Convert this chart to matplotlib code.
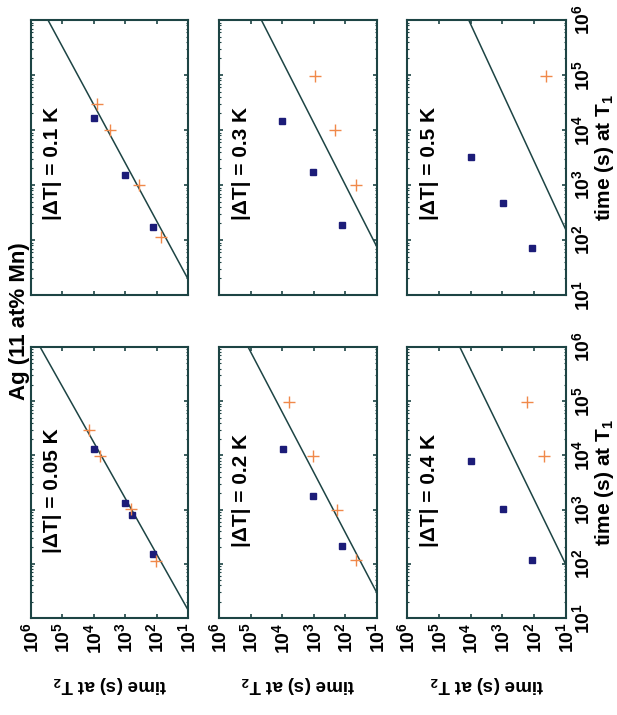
import numpy as np
import matplotlib
matplotlib.use('Agg')
import matplotlib.pyplot as plt
from matplotlib.ticker import FixedLocator, LogLocator, NullFormatter

plt.rcParams['font.family'] = ['Liberation Sans', 'DejaVu Sans']
plt.rcParams['font.weight'] = 'bold'
plt.rcParams['mathtext.fontset'] = 'custom'
plt.rcParams['mathtext.rm'] = 'Liberation Sans:bold'
plt.rcParams['mathtext.it'] = 'Liberation Sans:bold'
plt.rcParams['mathtext.bf'] = 'Liberation Sans:bold'

# panels, top row then bottom row
delta_t = ['0.1', '0.3', '0.5', '0.05', '0.2', '0.4']

# log10 of the waiting times (s)
blue_t2 = [[3.99, 3.01, 2.10], [4.01, 3.04, 2.10], [3.98, 2.99, 2.06],
           [3.99, 3.01, 2.78, 2.10], [3.98, 3.03, 2.10], [3.98, 2.99, 2.06]]
blue_t1 = [[4.21, 3.18, 2.23], [4.17, 3.23, 2.27], [3.51, 2.67, 1.85],
           [4.12, 3.12, 2.90, 2.19], [4.12, 3.26, 2.33], [3.90, 3.01, 2.07]]

orange_t2 = [[3.90, 3.49, 2.56, 1.85], [2.95, 2.32, 1.68], [1.62],
             [4.15, 3.81, 2.80, 2.03], [3.77, 3.01, 2.26, 1.68], [2.23, 1.69]]
orange_t1 = [[4.47, 4.00, 3.00, 2.05], [4.98, 4.00, 3.00], [4.98],
             [4.46, 3.99, 3.02, 2.06], [4.99, 3.99, 2.99, 2.07], [4.99, 3.99]]

# reference line, two end points per panel
line_t2 = [[5.46, 1.0], [4.66, 1.0], [4.06, 1.0],
           [5.71, 1.0], [5.08, 1.0], [4.34, 1.0]]
line_t1 = [[6.0, 1.29], [6.0, 1.87], [6.0, 2.18],
           [6.0, 1.15], [6.0, 1.46], [6.0, 1.98]]

decades = [1, 2, 3, 4, 5, 6]
tick_text = ['$10^{%d}$' % d for d in decades]

W, H = 617, 715
frame = '#1d4444'
navy = '#1c1c78'
orange = '#f0894a'

cols = [(31, 188), (219, 377), (407, 566)]
rows = [(20, 295), (347, 618)]

fig = plt.figure(figsize=(W / 100, H / 100), dpi=100)

for i in range(6):
    r, c = divmod(i, 3)
    x0, x1 = cols[c]
    y0, y1 = rows[r]
    ax = fig.add_axes([x0 / W, 1 - y1 / H, (x1 - x0) / W, (y1 - y0) / H])
    ax.set_xscale('log')
    ax.set_yscale('log')

    ax.plot(10.0 ** np.array(line_t2[i]), 10.0 ** np.array(line_t1[i]),
            color=frame, lw=1.1)
    ax.plot(10.0 ** np.array(blue_t2[i]), 10.0 ** np.array(blue_t1[i]), 's',
            ms=4.5, color=navy, mec=navy)
    ax.plot(10.0 ** np.array(orange_t2[i]), 10.0 ** np.array(orange_t1[i]), '+',
            ms=8, mew=1.0, color=orange)

    ax.set_xlim(1e6, 1e1)
    ax.set_ylim(1e1, 1e6)

    for axis in (ax.xaxis, ax.yaxis):
        axis.set_major_locator(FixedLocator([10.0 ** d for d in decades]))
        axis.set_minor_locator(LogLocator(base=10, subs=np.arange(2, 10)))
        axis.set_minor_formatter(NullFormatter())
    ax.set_xticklabels(tick_text)
    ax.set_yticklabels(tick_text)

    ax.tick_params(which='both', direction='in', top=True, right=True,
                   color=frame, labelsize=14,
                   labelbottom=(r == 1), labelleft=False, labelright=(c == 2))
    ax.tick_params(which='major', length=3, width=1.2)
    ax.tick_params(which='minor', length=1.5, width=0.8)
    ax.tick_params(axis='x', labelrotation=90, pad=3)
    ax.tick_params(axis='y', labelrotation=90, pad=4)
    for lbl in ax.get_yticklabels():
        lbl.set_va('center')
    for s in ax.spines.values():
        s.set_color(frame)
        s.set_linewidth(1.5)

    ax.text(0.14, 0.48 if r == 0 else 0.47, '|ΔT| = %s K' % delta_t[i],
            transform=ax.transAxes, rotation=90, ha='center', va='center',
            fontsize=15, fontweight='bold')

    if r == 1:
        ax.text(0.5, -0.247, 'time (s) at T$_2$', transform=ax.transAxes,
                rotation=180, ha='center', va='center', fontsize=13.5)
    if c == 2:
        ax.text(1.245, 0.5, 'time (s) at T$_1$', transform=ax.transAxes,
                rotation=90, ha='center', va='center', fontsize=15)

fig.text(20 / W, 1 - 321 / H, 'Ag (11 at% Mn)', rotation=90,
         ha='center', va='center', fontsize=16)

fig.savefig('out.png', dpi=100)
